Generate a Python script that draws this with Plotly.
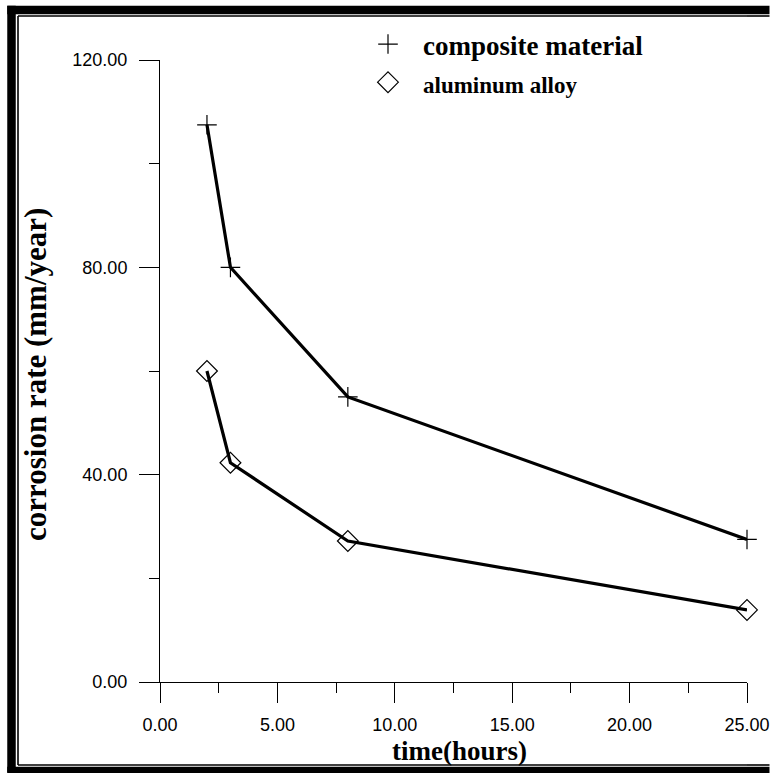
import plotly.graph_objects as go

# Data
time_hours = [2, 3, 8, 25]
composite_rate = [107.5, 80.0, 55.0, 27.5]
aluminum_rate = [60.0, 42.3, 27.2, 13.9]

x_ticks = [0, 5, 10, 15, 20, 25]
y_ticks = [0, 40, 80, 120]

W, H = 770, 773
ML, MR, MT, MB = 160, 23, 60, 91
PW, PH = W - ML - MR, H - MT - MB


def xp(px):
    return (px - ML) / PW


def yp(py):
    return (H - MB - py) / PH


fig = go.Figure()

fig.add_trace(go.Scatter(x=time_hours, y=composite_rate, mode="lines",
                         line=dict(color="black", width=3.2), showlegend=False,
                         hoverinfo="skip", cliponaxis=False))
fig.add_trace(go.Scatter(x=time_hours, y=aluminum_rate, mode="lines",
                         line=dict(color="black", width=3.2), showlegend=False,
                         hoverinfo="skip", cliponaxis=False))
fig.add_trace(go.Scatter(x=time_hours, y=composite_rate, mode="markers",
                         name="<b>composite material</b>", cliponaxis=False,
                         marker=dict(symbol="cross-thin", size=14, color="black",
                                     line=dict(color="black", width=1.2))))
fig.add_trace(go.Scatter(x=time_hours, y=aluminum_rate, mode="markers",
                         name="<b><span style='font-size:23px'>aluminum alloy</span></b>",
                         cliponaxis=False,
                         marker=dict(symbol="diamond-open", size=16, color="black",
                                     line=dict(color="black", width=1.2))))

tickfont = dict(family="Liberation Sans, Arial", size=18, color="black")

fig.update_xaxes(range=[0, 25], tickvals=x_ticks, tickformat=".2f",
                 showline=True, linecolor="black", linewidth=1,
                 ticks="outside", ticklen=20, tickwidth=1, tickcolor="black",
                 minor=dict(dtick=2.5, ticks="outside", ticklen=10, tickwidth=1,
                            tickcolor="black", showgrid=False),
                 showgrid=False, zeroline=False, tickfont=tickfont,
                 ticklabelstandoff=6, automargin=False, fixedrange=True)
fig.update_yaxes(range=[0, 120], tickvals=y_ticks, tickformat=".2f",
                 showline=True, linecolor="black", linewidth=1,
                 ticks="outside", ticklen=20, tickwidth=1, tickcolor="black",
                 minor=dict(dtick=20, ticks="outside", ticklen=10, tickwidth=1,
                            tickcolor="black", showgrid=False),
                 showgrid=False, zeroline=False, tickfont=tickfont,
                 ticklabelstandoff=8, automargin=False, fixedrange=True)

serif = "Liberation Serif, Times New Roman, serif"

fig.add_annotation(text="<b>time(hours)</b>", xref="paper", yref="paper",
                   x=xp(459), y=yp(751), xanchor="center", yanchor="middle",
                   showarrow=False, font=dict(family=serif, size=27, color="black"))
fig.add_annotation(text="<b>corrosion rate (mm/year)</b>", xref="paper", yref="paper",
                   x=xp(36), y=yp(375), xanchor="center", yanchor="middle",
                   textangle=-90, showarrow=False,
                   font=dict(family=serif, size=31, color="black"))

thick = dict(color="black", width=8.5)
thin = dict(color="black", width=1.6)
fig.add_shape(type="line", xref="paper", yref="paper",
              x0=xp(11.5), y0=yp(5.75), x1=xp(11.5), y1=yp(772.5), line=thick, layer="above")
fig.add_shape(type="line", xref="paper", yref="paper",
              x0=xp(18), y0=yp(16), x1=xp(18), y1=yp(765), line=thin, layer="above")
for a, b in [(7.25, 747), (747, 769.5)]:
    fig.add_shape(type="line", xref="paper", yref="paper",
                  x0=xp(a), y0=yp(10), x1=xp(b), y1=yp(10), line=thick, layer="above")
    fig.add_shape(type="line", xref="paper", yref="paper",
                  x0=xp(a), y0=yp(771), x1=xp(b), y1=yp(771), line=thick, layer="above")
    fig.add_shape(type="line", xref="paper", yref="paper",
                  x0=xp(max(a, 18)), y0=yp(16), x1=xp(b), y1=yp(16), line=thin, layer="above")
    fig.add_shape(type="line", xref="paper", yref="paper",
                  x0=xp(max(a, 18)), y0=yp(765), x1=xp(b), y1=yp(765), line=thin, layer="above")

fig.update_layout(
    width=W, height=H,
    margin=dict(l=ML, r=MR, t=MT, b=MB, pad=0, autoexpand=False),
    paper_bgcolor="white", plot_bgcolor="white",
    showlegend=True,
    legend=dict(x=xp(353), y=yp(20), xanchor="left", yanchor="top",
                bgcolor="rgba(0,0,0,0)", borderwidth=0, itemwidth=60,
                font=dict(family=serif, size=27, color="black"),
                itemclick=False, itemdoubleclick=False),
)

fig.write_html("out.html")
